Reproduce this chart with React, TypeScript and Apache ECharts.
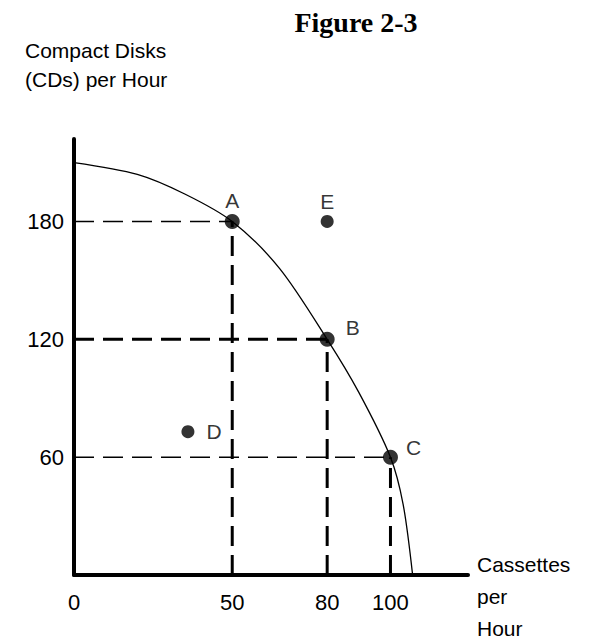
import React, { useEffect, useRef } from "react";
import * as echarts from "echarts";

const curveX = [0, 20, 35, 50, 65, 80, 90, 100, 104, 107];
const curveY = [210, 204, 194, 180, 156, 120, 93, 60, 36, 0];

const pointNames = ["A", "B", "C", "D", "E"];
const pointX = [50, 80, 100, 36, 80];
const pointY = [180, 120, 60, 73, 180];

const xTickLabels = [0, 50, 80, 100];
const yTickLabels = [60, 120, 180];

const title = "Figure 2-3";
const yName = ["Compact Disks", "(CDs) per Hour"];
const xName = ["Cassettes", "per", "Hour"];

const FONT = "'Liberation Sans', Arial, sans-serif";

export default function App() {
  const ref = useRef<HTMLDivElement>(null);
  useEffect(() => {
    if (!ref.current) return;
    const chart = echarts.init(ref.current, undefined, { renderer: "svg" });

    const pts = pointNames.map((n, i) => [pointX[i], pointY[i], n]);
    const A = pts[0], B = pts[1], C = pts[2];

    const thin = { color: "#000", width: 1.5, type: [20, 9] as number[] };
    const thick = { color: "#000", width: 3, type: [20, 9] as number[] };
    const seg = (data: number[][], ls: any) => ({
      type: "line",
      data,
      showSymbol: false,
      silent: true,
      lineStyle: ls,
      z: 1,
    });

    const labelPos: Record<string, any> = {
      A: { position: "top", distance: 3 },
      E: { position: "top", distance: 3 },
      B: { position: "right", distance: 11, offset: [0, -12] },
      C: { position: "right", distance: 8, offset: [0, -10] },
      D: { position: "right", distance: 12, offset: [0, 0] },
    };

    chart.setOption({
      animation: false,
      backgroundColor: "#fff",
      grid: { left: 74, right: 132, top: 139, bottom: 67 },
      xAxis: {
        type: "value",
        min: 0,
        max: 124.5,
        splitLine: { show: false },
        axisTick: { show: false },
        axisLine: { show: true, lineStyle: { color: "#000", width: 4 } },
        axisLabel: {
          customValues: xTickLabels,
          color: "#000",
          fontFamily: FONT,
          fontSize: 22,
          margin: 16,
        },
      },
      yAxis: {
        type: "value",
        min: 0,
        max: 222,
        splitLine: { show: false },
        axisTick: { show: false },
        axisLine: { show: true, lineStyle: { color: "#000", width: 4 } },
        axisLabel: {
          customValues: yTickLabels,
          color: "#000",
          fontFamily: FONT,
          fontSize: 22,
          margin: 10,
        },
      },
      graphic: [
        {
          type: "text",
          x: 356,
          y: 8,
          style: {
            text: title,
            font: "bold 28px 'Liberation Serif', 'Times New Roman', serif",
            fill: "#000",
            textAlign: "center",
          },
        },
        {
          type: "text",
          x: 25,
          y: 36,
          style: {
            text: yName.join("\n"),
            fontFamily: FONT,
            fontSize: 21,
            lineHeight: 29,
            fill: "#000",
          },
        },
        {
          type: "text",
          x: 477,
          y: 548,
          style: {
            text: xName.join("\n"),
            fontFamily: FONT,
            fontSize: 21,
            lineHeight: 32,
            fill: "#000",
          },
        },
      ],
      series: [
        seg([[0, A[1] as number], [A[0] as number, A[1] as number]], thin),
        seg([[0, C[1] as number], [C[0] as number, C[1] as number]], thin),
        seg([[0, B[1] as number], [B[0] as number, B[1] as number]], thick),
        seg([[A[0] as number, 0], [A[0] as number, A[1] as number]], thick),
        seg([[B[0] as number, 0], [B[0] as number, B[1] as number]], thick),
        seg([[C[0] as number, 0], [C[0] as number, C[1] as number]], thick),
        {
          type: "line",
          data: curveX.map((x, i) => [x, curveY[i]]),
          smooth: 0.3,
          showSymbol: false,
          silent: true,
          lineStyle: { color: "#000", width: 1.3 },
          z: 2,
        },
        {
          type: "scatter",
          data: pts.map((p) => ({
            value: [p[0], p[1]],
            name: p[2],
            symbolSize: p[2] === "D" || p[2] === "E" ? 13 : 15,
            label: {
              show: true,
              formatter: p[2] as string,
              color: "#000",
              fontFamily: FONT,
              fontSize: 21,
              ...labelPos[p[2] as string],
            },
          })),
          itemStyle: { color: "#000" },
          z: 3,
        },
      ],
    });
    return () => chart.dispose();
  }, []);
  return (
    <div
      ref={ref}
      style={{ position: "fixed", left: 0, top: 0, width: 600, height: 642 }}
    />
  );
}
